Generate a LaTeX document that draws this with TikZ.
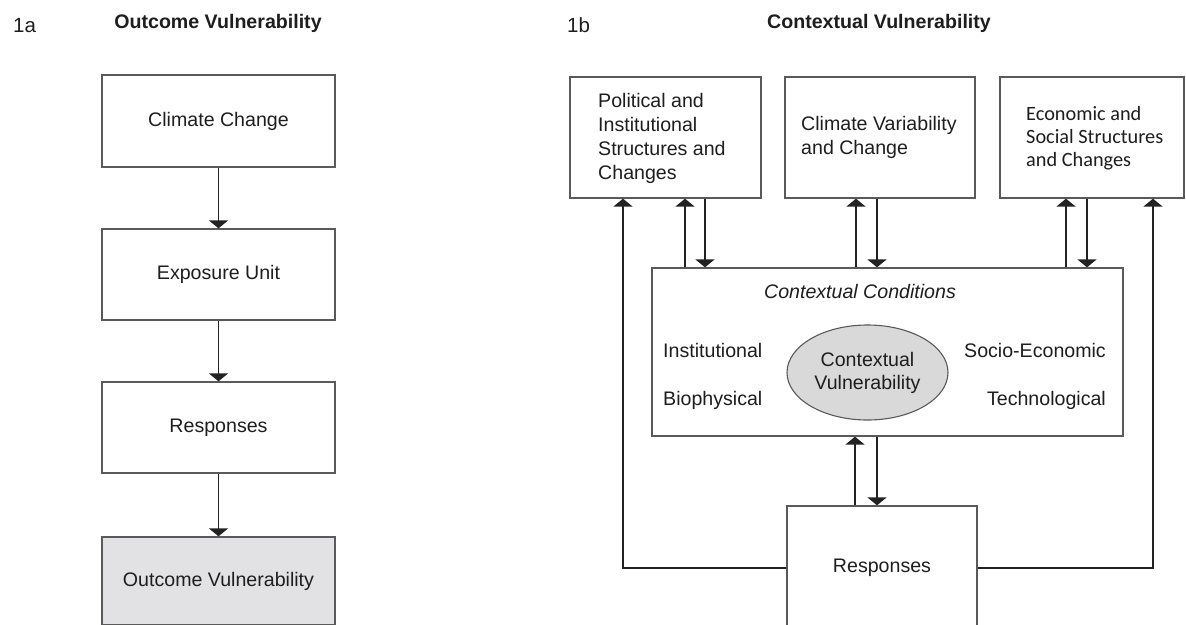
\documentclass[tikz,border=0pt]{standalone}
\usepackage{fontspec}
\setmainfont{Liberation Sans}
\newfontfamily\econfont{Carlito}
\usetikzlibrary{arrows.meta,calc,shapes.geometric}
\definecolor{boxline}{HTML}{5A5A5A}
\definecolor{arrline}{HTML}{222222}
\definecolor{txt}{HTML}{1E1E1E}
\definecolor{ovfill}{HTML}{E2E2E5}
\definecolor{elfill}{HTML}{D9D9D9}
\tikzset{
  box/.style={draw=boxline, line width=1.3pt, fill=white, rectangle, inner sep=0pt,
    font=\fontsize{19.6}{24}\selectfont, text=txt},
  arr/.style={draw=arrline, line width=1.8pt, -{Triangle[width=19pt,length=8pt]}},
  lbl/.style={inner sep=0pt, font=\fontsize{19.6}{24}\selectfont, text=txt},
  ttl/.style={inner sep=0pt, font=\fontsize{19.6}{24}\selectfont\bfseries, text=txt},
}
\begin{document}
\begin{tikzpicture}[x=1pt,y=-1pt]
\useasboundingbox (0,0) rectangle (1186,624);
\fill[white] (0,0) rectangle (1186,624);

% ---------- 1a ----------
\node[lbl, anchor=base west, font=\fontsize{20.5}{24}\selectfont] (t1a) at (13,32) {1a};
\node[ttl, anchor=base] (t1atitle) at (218,28) {Outcome Vulnerability};

\node[box, minimum width=233pt, minimum height=92pt] (cc) at (218.5,121) {Climate Change};
\node[box, minimum width=233pt, minimum height=91pt] (eu) at (218.5,274.5) {Exposure Unit};
\node[box, minimum width=233pt, minimum height=91pt] (rsa) at (218.5,427.5) {Responses};
\node[box, fill=ovfill, minimum width=233pt, minimum height=88pt] (ov) at (218.5,581) {Outcome Vulnerability};

\draw[arr] (cc) -- (eu);
\draw[arr] (eu) -- (rsa);
\draw[arr] (rsa) -- (ov);

% ---------- 1b ----------
\node[lbl, anchor=base west, font=\fontsize{20.5}{24}\selectfont] (t1b) at (567,32) {1b};
\node[ttl, anchor=base] (t1btitle) at (879,28) {Contextual Vulnerability};

\node[box, minimum width=191pt, minimum height=121pt] (pol) at (665.5,137.5) {};
\node[lbl, align=left, anchor=west] (poltxt) at (598,138) {Political and\\Institutional\\Structures and\\Changes};

\node[box, minimum width=190pt, minimum height=121pt] (cvc) at (880,137.5) {};
\node[lbl, align=left, anchor=west] (cvctxt) at (801,137.5) {Climate Variability\\and Change};

\node[box, minimum width=184pt, minimum height=121pt] (eco) at (1092,137.5) {};
\node[lbl, align=left, anchor=west, font=\econfont\fontsize{20.3}{23}\selectfont] (ecotxt) at (1026,138) {Economic and\\Social Structures\\and Changes};

\node[box, minimum width=471pt, minimum height=168pt] (ctx) at (887.5,352) {};
\node[lbl, anchor=base, font=\fontsize{19.6}{24}\selectfont\itshape] (ctxtitle) at (860,298) {Contextual Conditions};
\node[lbl, anchor=base west] (inst) at (663,357) {Institutional};
\node[lbl, anchor=base west] (bio) at (663,405) {Biophysical};
\node[lbl, anchor=base east] (soc) at (1106,357) {Socio-Economic};
\node[lbl, anchor=base east] (tech) at (1106,405) {Technological};
\node[ellipse, draw=boxline, line width=1.1pt, fill=elfill, minimum width=161pt, minimum height=95pt,
  inner sep=0pt, align=center, font=\fontsize{19.6}{23}\selectfont, text=txt] (cv) at (867.5,372.5) {Contextual\\Vulnerability};

\node[box, minimum width=190pt, minimum height=124pt] (rsb) at (882,568) {Responses};

% connectors
\coordinate (lx) at (623,0);
\coordinate (rx) at (1153,0);
\coordinate (a1) at (685,0);
\coordinate (a2) at (705,0);
\coordinate (b1) at (856,0);
\coordinate (b2) at (877,0);
\coordinate (c1) at (1066,0);
\coordinate (c2) at (1087,0);
\coordinate (d1) at (855,0);
\coordinate (d2) at (877,0);

\draw[arr] (rsb.west) -| (lx |- pol.south);
\draw[arr] (rsb.east) -| (rx |- eco.south);

\draw[arr] (a1 |- ctx.north) -- (a1 |- pol.south);
\draw[arr] (a2 |- pol.south) -- (a2 |- ctx.north);
\draw[arr] (b1 |- ctx.north) -- (b1 |- cvc.south);
\draw[arr] (b2 |- cvc.south) -- (b2 |- ctx.north);
\draw[arr] (c1 |- ctx.north) -- (c1 |- eco.south);
\draw[arr] (c2 |- eco.south) -- (c2 |- ctx.north);
\draw[arr] (d1 |- rsb.north) -- (d1 |- ctx.south);
\draw[arr] (d2 |- ctx.south) -- (d2 |- rsb.north);
\end{tikzpicture}
\end{document}
